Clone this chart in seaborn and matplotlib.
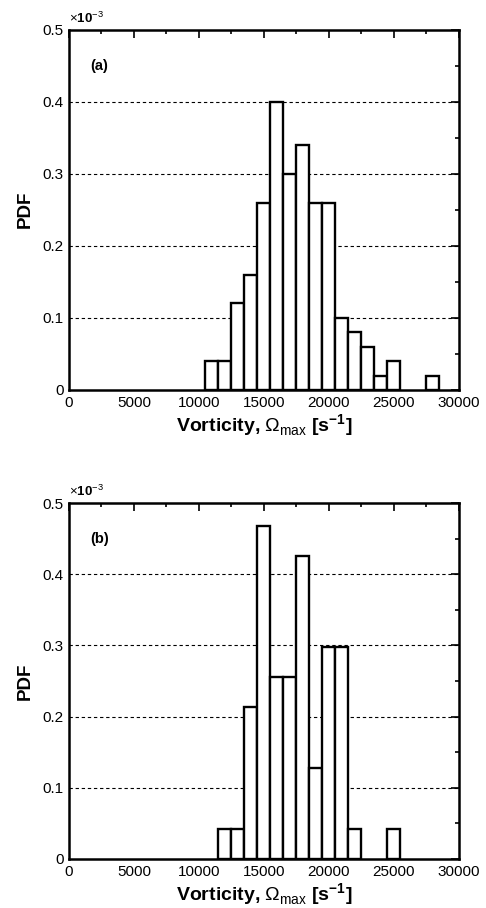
import numpy as np
import pandas as pd
import matplotlib
matplotlib.use("Agg")
import matplotlib.pyplot as plt
import seaborn as sns
from matplotlib.ticker import MultipleLocator

# bin centres [s^-1] and PDF values (x1e-3)
centers_a = [11000, 12000, 13000, 14000, 15000, 16000, 17000, 18000,
             19000, 20000, 21000, 22000, 23000, 24000, 25000, 28000]
pdf_a = [0.04, 0.04, 0.12, 0.16, 0.26, 0.40, 0.30, 0.34,
         0.26, 0.26, 0.10, 0.08, 0.06, 0.02, 0.04, 0.02]

centers_b = [12000, 13000, 14000, 15000, 16000, 17000, 18000,
             19000, 20000, 21000, 22000, 25000]
pdf_b = [0.0426, 0.0426, 0.213, 0.468, 0.255, 0.255, 0.426,
         0.128, 0.298, 0.298, 0.0426, 0.0426]

panel_labels = ["(a)", "(b)"]
xticks = [0, 5000, 10000, 15000, 20000, 25000, 30000]
yticks = [0, 0.1, 0.2, 0.3, 0.4, 0.5]

sns.set_style("white")
plt.rcParams['font.family'] = ['Liberation Sans', 'DejaVu Sans']
plt.rcParams['mathtext.fontset'] = 'custom'
plt.rcParams['mathtext.rm'] = 'Liberation Sans'
plt.rcParams['mathtext.bf'] = 'Liberation Sans:bold'
plt.rcParams['text.color'] = 'black'
plt.rcParams['axes.labelcolor'] = 'black'
plt.rcParams['xtick.color'] = 'black'
plt.rcParams['ytick.color'] = 'black'

fig = plt.figure(figsize=(4.86, 9.08), dpi=100)
ax_a = fig.add_axes([0.142, 0.5705, 0.802, 0.397])
ax_b = fig.add_axes([0.142, 0.054, 0.802, 0.392])

for ax, centers, pdf, lab in zip([ax_a, ax_b], [centers_a, centers_b],
                                 [pdf_a, pdf_b], panel_labels):
    df = pd.DataFrame({"vort": centers, "pdf": pdf})
    sns.barplot(data=df, x="vort", y="pdf", native_scale=True, width=1,
                color="white", edgecolor="black", linewidth=1.7,
                errorbar=None, saturation=1, ax=ax, zorder=3)
    ax.set_xlim(0, 30000)
    ax.set_ylim(0, 0.5)
    ax.set_xticks(xticks)
    ax.set_xticklabels([str(t) for t in xticks])
    ax.set_yticks(yticks)
    ax.set_yticklabels(["0", "0.1", "0.2", "0.3", "0.4", "0.5"])
    ax.xaxis.set_minor_locator(MultipleLocator(2500))
    ax.yaxis.set_minor_locator(MultipleLocator(0.05))
    ax.tick_params(which="both", direction="in", top=True, right=True,
                   labelsize=11, colors="black", width=1.2)
    ax.tick_params(which="major", length=6, pad=4)
    ax.tick_params(which="minor", length=3)
    for s in ax.spines.values():
        s.set_linewidth(1.8)
        s.set_color("black")
    for yv in yticks[1:-1]:
        ax.axhline(yv, color="black", linewidth=0.8, linestyle=(0, (3, 2.5)), zorder=1)
    ax.set_ylabel("PDF", fontsize=13.5, fontweight="bold", labelpad=6)
    ax.set_xlabel(r"Vorticity, $\Omega_{\mathrm{max}}$ [s$^{\mathbf{-1}}$]",
                  fontsize=14, fontweight="bold", labelpad=2)
    ax.text(0.054, 0.9, lab, transform=ax.transAxes, fontsize=10.5,
            fontweight="bold", va="center", ha="left")
    ax.text(0.0, 1.01, r"$\times$10$^{-3}$", transform=ax.transAxes,
            fontsize=9.5, fontweight="bold", va="bottom", ha="left")

fig.savefig("out.png", dpi=100)
